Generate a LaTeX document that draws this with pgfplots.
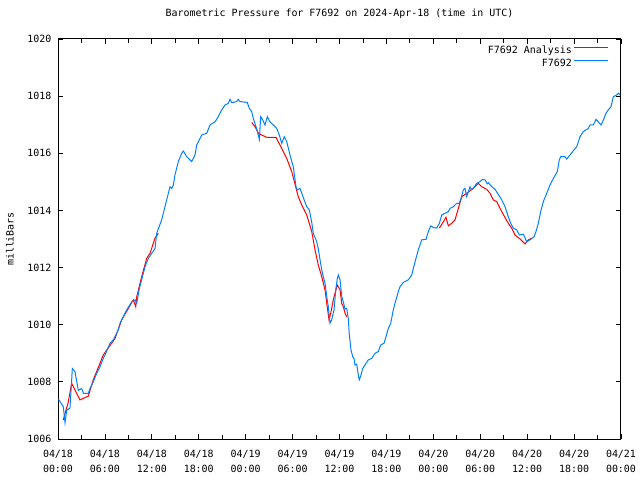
\documentclass[border=0pt]{standalone}
\usepackage{fontspec}
\setmainfont{DejaVu Sans Mono}
\usepackage{pgfplots}
\pgfplotsset{compat=1.18}
\definecolor{obsblue}{RGB}{0,128,255}
\begin{document}
\fontsize{10}{12}\selectfont
\begin{tikzpicture}
\path[use as bounding box] (0,0) rectangle (640bp,480bp);
\begin{axis}[
  at={(58bp,41bp)}, anchor=south west,
  scale only axis, width=563bp, height=400bp,
  xmin=0, xmax=72, ymin=1006, ymax=1020,
  xtick={0,6,...,72},
  xticklabels={{04/18\\00:00},{04/18\\06:00},{04/18\\12:00},{04/18\\18:00},{04/19\\00:00},{04/19\\06:00},{04/19\\12:00},{04/19\\18:00},{04/20\\00:00},{04/20\\06:00},{04/20\\12:00},{04/20\\18:00},{04/21\\00:00}},
  xticklabel style={align=center, font=\fontsize{10}{15.5}\selectfont, yshift=-7.5bp},
  minor x tick num=1,
  ytick={1006,1008,...,1020},
  yticklabel style={/pgf/number format/1000 sep={}, xshift=-3bp},
  /pgf/number format/assume math mode=true,
  tick align=inside,
  major tick length=5bp, minor tick length=4bp,
  tick style={black, line width=0.8bp},
  axis line style={black, line width=1bp},
  every axis y label/.style={at={(axis description cs:-0.0853,0.5)}, rotate=90, anchor=center},
  ylabel={milliBars},
  title={Barometric Pressure for F7692 on 2024-Apr-18 (time in UTC)},
  title style={at={(axis description cs:0.5,1.0475)}, anchor=center},
  unbounded coords=jump,
  legend style={draw=none, fill=none, at={(axis description cs:0.9787,0.988)}, anchor=north east, row sep=0bp, inner sep=0pt},
  legend cell align=right,
  legend plot pos=right,
]
\addplot[red, line width=1bp, legend image code/.code={\path (0bp,3.5bp) -- (6bp,3.5bp); \draw[red, line width=1bp] (6bp,3.5bp) -- (34bp,3.5bp);}] coordinates {
(0.68,1006.67) (1.32,1007.3) (1.75,1007.95) (2.81,1007.37) (3.88,1007.5) (4.51,1008.07) (5.79,1008.94) (7.29,1009.52) (8.15,1010.17) (9.63,1010.87) (9.94,1010.63) (10.07,1010.98) (10.70,1011.68) (11.34,1012.32) (11.77,1012.5) (12.41,1013.03) (12.83,1013.2)
(18,nan)
(24.77,1017.08) (25.20,1016.93) (25.62,1016.7) (26.05,1016.64) (26.69,1016.56) (27.88,1016.56) (28.61,1016.17) (29.25,1015.82) (29.89,1015.36) (30.31,1014.92) (30.73,1014.48) (31.17,1014.19) (31.81,1013.84) (32.45,1013.26) (32.87,1012.62) (33.29,1012.09) (33.73,1011.68) (34.15,1011.22) (34.37,1010.75) (34.66,1010.17) (34.88,1010.4) (35.21,1010.87) (35.43,1011.1) (35.72,1011.39) (36.07,1011.22) (36.28,1010.75) (36.49,1010.63) (36.71,1010.4) (36.92,1010.28)
(42,nan)
(48.77,1013.38) (49.28,1013.6) (49.62,1013.76) (49.92,1013.46) (50.35,1013.55) (50.77,1013.67) (51.20,1014.07) (51.63,1014.48) (52.27,1014.6) (52.69,1014.69) (53.33,1014.83) (53.75,1014.95) (54.18,1014.83) (54.82,1014.74) (55.25,1014.6) (55.67,1014.37) (56.10,1014.31) (56.53,1014.07) (57.17,1013.75) (57.59,1013.55) (58.02,1013.38) (58.45,1013.14) (59.09,1013.0) (59.73,1012.83) (60.15,1012.97) (60.58,1013.03)
};
\addlegendentry{F7692 Analysis}
\addplot[obsblue, line width=1bp, legend image code/.code={\path (0bp,3.5bp) -- (6bp,3.5bp); \draw[obsblue, line width=1bp] (6bp,3.5bp) -- (34bp,3.5bp);}] coordinates {
(0.0,1007.37) (0.13,1007.37) (0.68,1007.13) (0.90,1006.57) (1.11,1007.0) (1.53,1007.08) (1.75,1008.07) (1.83,1008.47) (2.17,1008.36) (2.60,1007.7) (3.03,1007.77) (3.24,1007.6) (3.88,1007.6) (4.09,1007.77) (4.51,1008.0) (4.95,1008.3) (5.37,1008.53) (5.79,1008.82) (6.01,1008.94) (6.65,1009.35) (7.07,1009.47) (7.71,1009.82) (7.93,1010.05) (8.79,1010.52) (9.43,1010.8) (9.85,1010.87) (10.07,1010.75) (10.40,1011.27) (10.70,1011.57) (11.13,1012.03) (11.55,1012.32) (12.41,1012.67) (12.62,1013.2) (13.26,1013.67) (13.90,1014.37) (14.32,1014.83) (14.54,1014.77) (14.75,1014.89) (14.96,1015.24) (15.39,1015.71) (15.82,1016.0) (16.03,1016.08) (16.46,1015.88) (17.10,1015.71) (17.52,1015.94) (17.74,1016.29) (18.38,1016.64) (19.02,1016.7) (19.44,1016.99) (20.08,1017.1) (20.50,1017.28) (20.94,1017.52) (21.36,1017.69) (21.78,1017.75) (22.00,1017.89) (22.22,1017.77) (22.85,1017.81) (23.06,1017.89) (23.28,1017.81) (24.21,1017.78) (24.47,1017.57) (24.77,1017.46) (24.98,1017.22) (25.32,1016.93) (25.62,1016.64) (25.75,1016.49) (25.92,1017.28) (26.18,1017.17) (26.47,1016.99) (26.77,1017.28) (27.11,1017.1) (27.54,1016.99) (27.97,1016.87) (28.30,1016.64) (28.61,1016.35) (28.94,1016.58) (29.25,1016.41) (29.67,1015.94) (30.09,1015.53) (30.44,1014.83) (30.60,1014.72) (30.95,1014.77) (31.37,1014.45) (31.81,1014.13) (32.14,1014.02) (32.45,1013.58) (32.65,1013.2) (33.09,1012.9) (33.29,1012.65) (33.51,1012.27) (33.73,1011.92) (33.93,1011.68) (34.15,1011.45) (34.37,1010.98) (34.57,1010.63) (34.79,1010.05) (35.00,1010.17) (35.30,1010.52) (35.52,1011.22) (35.72,1011.62) (35.85,1011.74) (36.07,1011.57) (36.28,1011.0) (36.49,1010.8) (36.71,1010.55) (36.92,1010.57) (37.13,1010.2) (37.25,1009.67) (37.47,1009.12) (37.69,1008.88) (37.86,1008.82) (37.98,1008.59) (38.20,1008.62) (38.41,1008.24) (38.53,1008.07) (38.71,1008.2) (38.97,1008.47) (39.26,1008.59) (39.69,1008.77) (40.12,1008.82) (40.54,1009.0) (40.96,1009.06) (41.27,1009.29) (41.69,1009.35) (41.95,1009.58) (42.24,1009.87) (42.55,1010.05) (42.88,1010.52) (43.10,1010.75) (43.52,1011.16) (43.74,1011.33) (44.16,1011.48) (44.80,1011.57) (45.24,1011.74) (45.44,1011.97) (45.66,1012.2) (46.08,1012.62) (46.51,1012.97) (47.07,1012.99) (47.36,1013.26) (47.67,1013.46) (48.00,1013.4) (48.43,1013.38) (48.77,1013.55) (49.07,1013.84) (49.49,1013.9) (49.92,1013.96) (50.13,1014.07) (50.56,1014.13) (50.99,1014.25) (51.32,1014.25) (51.54,1014.42) (51.84,1014.72) (52.05,1014.77) (52.27,1014.48) (52.69,1014.83) (52.91,1014.72) (53.11,1014.77) (53.55,1014.95) (53.97,1015.01) (54.32,1015.09) (54.61,1015.07) (54.90,1014.93) (55.03,1014.97) (55.47,1014.83) (55.89,1014.74) (56.31,1014.56) (56.75,1014.37) (57.17,1014.13) (57.59,1013.78) (57.90,1013.55) (58.23,1013.38) (58.66,1013.32) (59.00,1013.14) (59.51,1013.17) (59.94,1012.9) (60.37,1012.97) (60.88,1013.08) (61.13,1013.26) (61.43,1013.55) (61.73,1013.96) (62.07,1014.31) (62.50,1014.6) (62.92,1014.89) (63.35,1015.12) (63.86,1015.36) (64.11,1015.77) (64.29,1015.88) (64.84,1015.88) (65.06,1015.8) (65.48,1015.94) (65.90,1016.09) (66.34,1016.23) (66.76,1016.58) (67.18,1016.76) (67.82,1016.87) (68.04,1016.99) (68.46,1016.99) (68.81,1017.19) (69.10,1017.1) (69.45,1016.99) (69.74,1017.16) (70.08,1017.4) (70.38,1017.52) (70.72,1017.63) (71.02,1017.98) (71.45,1018.04) (71.66,1018.1) (71.88,1018.04)
};
\addlegendentry{F7692}
\end{axis}
\end{tikzpicture}
\end{document}
